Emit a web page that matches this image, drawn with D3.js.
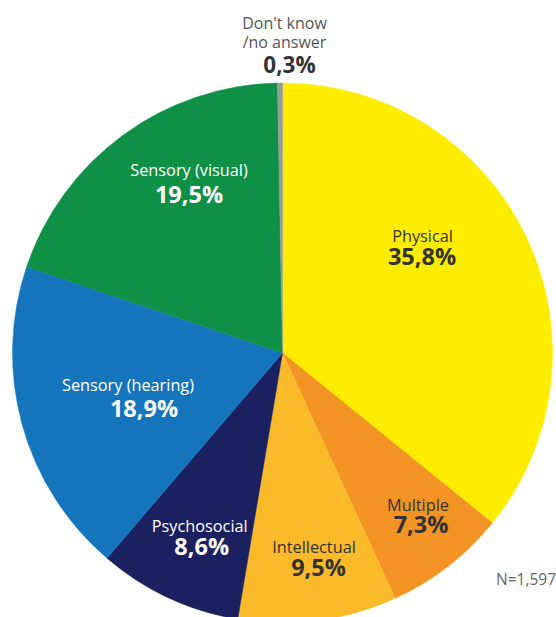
<!DOCTYPE html>
<html>
<head>
<meta charset="utf-8">
<script src="https://cdn.jsdelivr.net/npm/d3@7"></script>
<style>
  html, body { margin: 0; padding: 0; background: #fff; }
  svg { display: block; font-family: "Open Sans", sans-serif; }
</style>
</head>
<body>
<svg id="chart" width="556" height="617"></svg>
<script>
// Type of disability, share of respondents (%)
const categories = ["Physical", "Multiple", "Intellectual", "Psychosocial", "Sensory (hearing)", "Sensory (visual)", "Don't know /no answer"];
const values = [35.8, 7.3, 9.5, 8.6, 18.9, 19.5, 0.3];
const valueLabels = ["35,8%", "7,3%", "9,5%", "8,6%", "18,9%", "19,5%", "0,3%"];
const colors = ["#FFED00", "#F39323", "#FBBA2A", "#1B2061", "#1475BC", "#0E9146", "#9A9A9A"];
const textColors = ["#333", "#333", "#333", "#fff", "#fff", "#fff", "#333"];
const sampleNote = "N=1,597";

// Label layout: category-name baseline relative to the pie centre,
// and the percentage baseline relative to the name
const nameOffsets = [[140, -111.3], [135.5, 158], [31.5, 200], [-82.8, 178.7], [-154.5, 37.7], [-93.5, -177]];
const valueOffsets = [[-0.5, 23.3], [3, 22.3], [4.5, 23], [2, 23.3], [16, 26], [0, 27.3]];

const svg = d3.select("#chart");
const cx = 282.5, cy = 353, R = 270;

const pie = d3.pie().sort(null).value(d => d);
const arcs = pie(values);
const arc = d3.arc().innerRadius(0).outerRadius(R);

const g = svg.append("g").attr("transform", `translate(${cx},${cy})`);

g.selectAll("path.slice")
  .data(arcs)
  .join("path")
  .attr("class", "slice")
  .attr("d", arc)
  .attr("fill", (d, i) => colors[i])
  .attr("stroke", (d, i) => colors[i])
  .attr("stroke-width", 0.5);

// In-slice labels
arcs.slice(0, 6).forEach((d, i) => {
  const [nx, ny] = nameOffsets[i];
  const [vx, vy] = valueOffsets[i];
  const t = g.append("g").attr("transform", `translate(${nx},${ny})`);
  t.append("text")
    .attr("text-anchor", "middle")
    .attr("font-size", 16.3)
    .attr("fill", textColors[i])
    .text(categories[i]);
  t.append("text")
    .attr("text-anchor", "middle")
    .attr("x", vx)
    .attr("y", vy)
    .attr("font-size", 23.5)
    .attr("font-weight", 700)
    .attr("fill", textColors[i])
    .text(valueLabels[i]);
});

// Label for the thin "don't know" slice, set above the pie
const topLabel = svg.append("g").attr("transform", "translate(284.5,0)");
topLabel.append("text").attr("text-anchor", "middle").attr("y", 29)
  .attr("font-size", 16).attr("fill", "#555").text("Don't know");
topLabel.append("text").attr("text-anchor", "middle").attr("y", 48)
  .attr("font-size", 16).attr("fill", "#555").text("/no answer");
topLabel.append("text").attr("text-anchor", "middle").attr("x", 5).attr("y", 73.3)
  .attr("font-size", 22.5).attr("font-weight", 700).attr("fill", "#333").text(valueLabels[6]);

svg.append("text")
  .attr("x", 496).attr("y", 585)
  .attr("font-size", 15.5).attr("fill", "#666")
  .text(sampleNote);
</script>
</body>
</html>
